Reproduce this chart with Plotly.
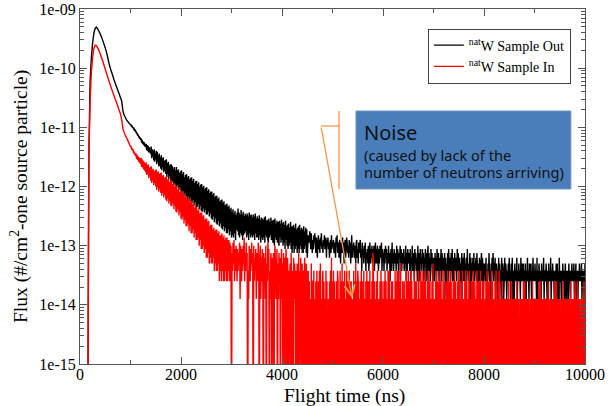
import numpy as np
import plotly.graph_objects as go

# ---------------- data ----------------
U = 1.25e-14          # flux of one tally count (#/cm^2 per source particle)
ZERO_FLOOR = 1e-17    # empty bins are drawn below the axis floor

# 0 .. 1000 ns, every 25 ns (smooth part), flux values
out_peak = [0, 0, 0, 0, 0, 0, 0,
            3e-12, 6e-11, 1.5e-10, 2.7e-10, 3.9e-10, 4.7e-10, 4.95e-10, 4.6e-10,
            4.2e-10, 3.8e-10, 3.35e-10, 2.95e-10, 2.55e-10, 2.2e-10, 1.85e-10,
            1.5e-10, 1.2e-10, 1.0e-10, 8.6e-11, 7.4e-11, 6.3e-11, 5.5e-11, 4.8e-11,
            4.2e-11, 3.7e-11, 3.2e-11, 2.8e-11, 1.9e-11, 1.6e-11, 1.45e-11,
            1.32e-11, 1.24e-11, 1.17e-11, 1.1e-11]
in_peak = [0, 0, 0, 0, 0, 0, 0,
           3e-12, 2.8e-11, 8.5e-11, 1.55e-10, 2.15e-10, 2.45e-10, 2.4e-10, 2.2e-10,
           1.98e-10, 1.75e-10, 1.52e-10, 1.32e-10, 1.13e-10, 9.6e-11, 8.1e-11,
           7.0e-11, 6.0e-11, 5.2e-11, 4.5e-11, 3.9e-11, 3.4e-11, 2.95e-11, 2.6e-11,
           2.25e-11, 1.95e-11, 1.7e-11, 1.35e-11, 9.5e-12, 8.2e-12, 7.3e-12,
           6.6e-12, 5.9e-12, 5.3e-12, 4.7e-12]

# 1010 .. 3000 ns, every 10 ns, in tally counts (x U)
out_mid = [
    880, 820, 860, 780, 800, 760, 770, 700, 740, 680,
    680, 620, 650, 580, 610, 560, 570, 510, 540, 490,
    520, 440, 490, 420, 460, 400, 450, 380, 420, 370,
    420, 330, 400, 320, 390, 300, 370, 300, 350, 280,
    380, 240, 340, 260, 320, 220, 340, 210, 290, 230,
    320, 190, 310, 210, 270, 175, 290, 180, 250, 160,
    270, 150, 240, 170, 250, 140, 215, 150, 225, 130,
    230, 115, 200, 130, 210, 105, 180, 120, 190, 98,
    190, 92, 175, 100, 160, 84, 170, 90, 150, 80,
    170, 76, 150, 85, 155, 70, 135, 78, 145, 66,
    150, 60, 130, 68, 140, 55, 115, 62, 125, 50,
    130, 48, 115, 55, 120, 45, 105, 52, 112, 44,
    115, 42, 100, 48, 108, 38, 92, 44, 98, 36,
    100, 36, 88, 40, 94, 33, 80, 38, 86, 31,
    88, 30, 78, 34, 82, 29, 72, 32, 76, 27,
    78, 27, 68, 30, 72, 25, 62, 28, 66, 23,
    66, 22, 58, 25, 62, 20, 52, 23, 56, 19,
    56, 18, 49, 21, 52, 17, 44, 19, 47, 16,
    48, 15, 42, 17, 45, 14, 38, 16, 40, 13,
    41, 13, 36, 15, 38, 12, 33, 14, 35, 11,
]
in_mid = [
    390, 340, 360, 320, 340, 295, 315, 275, 295, 260,
    290, 235, 275, 225, 260, 210, 250, 200, 240, 190,
    245, 170, 230, 168, 220, 155, 210, 150, 195, 138,
    205, 125, 185, 130, 190, 112, 168, 118, 170, 100,
    175, 92, 155, 100, 160, 85, 145, 92, 150, 80,
    155, 70, 140, 78, 145, 65, 130, 72, 135, 62,
    138, 56, 120, 62, 125, 52, 112, 58, 116, 48,
    120, 45, 105, 50, 108, 41, 95, 46, 100, 38,
    100, 37, 88, 42, 92, 33, 80, 38, 84, 30,
    82, 29, 72, 33, 75, 26, 65, 30, 68, 23,
    68, 22, 60, 25, 62, 19, 54, 22, 56, 17,
    56, 17, 49, 19, 51, 14, 44, 17, 46, 13,
    46, 13, 40, 15, 42, 11, 35, 13, 37, 10,
    36, 10, 31, 11, 33, 8, 28, 10, 29, 7,
    29, 7, 25, 8, 26, 6, 22, 7, 23, 5,
    23, 5, 20, 6, 21, 4, 17, 5, 18, 4,
    18, 4, 15, 5, 16, 3, 14, 4, 15, 3,
    15, 3, 13, 4, 14, 2, 12, 3, 12, 2,
    13, 3, 11, 2, 12, 2, 10, 3, 11, 2,
    11, 2, 10, 3, 10, 2, 9, 2, 8, 0,
]

# 3010 .. 10000 ns, every 10 ns, tally counts written as base-36 digits
out_tail = [
    "ucxbsdvaqf", "teyctbrdwc", "raucpdseqb", "scpatdqbrc", "obrcpasdnb",
    "pbnaqcm9ob", "nambo9pclb", "ma9nbkcoal", "k9ma8nbjal", "9ka8lbj9ma",
    "j8k9i7lah8", "i7j8g9k7h6", "h8i6g7j8f6", "g7h6i8f7g6", "f6h7e8g6f5",
    "8cb9ea7d96", "a7c9d86b85", "9c7a6b8d79", "6a8c79b5a8", "b7958a6c79",
    "8a6795b8c6", "975a84968b", "6948a57b96", "85a6947c58", "7958649a57",
    "4968a57396", "7485936574", "8369475847", "5836947485", "3748569375",
    "6374857364", "8462573946", "3754638475", "2658473564", "7354826375",
    "4637254836", "5274635284", "3627453746", "2547362583", "6352746325",
    "4263527436", "2534726354", "3625143627", "4352637245", "2634527364",
    "3524163524", "6243527342", "3615243526", "2435263142", "5324625314",
    "3425132436", "2314253624", "3512432052", "4231524312", "5243132425",
    "2314252031", "4232513242", "3152432413", "2403252314", "3241325232",
    "4231503242", "2314232513", "3242130423", "2513242312", "3241423052",
    "2313242312", "4203231423", "1324232413", "2402313242", "3241323124",
]
in_tail = [
    "6394a27385", "2736491852", "7384b26394", "6031852749", "3608253714",
    "6294038152", "7306251804", "2957031640", "5260384127", "0416250371",
    "4061502730", "5203140620", "3051420304", "2060315024", "0302501403",
    "0302010402", "2030102030", "0203040102", "3020103020", "0102030502",
    "0302010203", "2010302040", "0203010302", "1030202010", "0302040203",
    "2010203020", "0301020302", "0203010206", "3020102030", "0102030201",
    "0203020103", "2030102020", "0103020302", "3020401020", "0201030203",
    "1020302010", "0302020103", "2010302030", "0203010202", "3020102040",
    "0102030201", "2030201030", "0201020302", "1030201020", "0302010203",
    "2010203010", "0203020102", "3010202030", "0201030201", "2030102020",
    "0102030201", "2010302010", "0203010203",
    "0101020101", "1010101020", "0102010101", "1010201010", "0101010201",
    "2010101010", "0101020101", "1010101020", "0201010101", "1010102010",
    "0101010102", "1020101010", "0101020101", "1010101010", "0201010102",
    "1010201010", "0101010201",
]

x_ticks = [0, 2000, 4000, 6000, 8000, 10000]
x_ticklabels = ["0", "2000", "4000", "6000", "8000", "10000"]
y_ticks = [1e-15, 1e-14, 1e-13, 1e-12, 1e-11, 1e-10, 1e-9]
y_ticklabels = ["1e-15", "1e-14", "1e-13", "1e-12", "1e-11", "1e-10", "1e-09"]

series_names = ["<sup>nat</sup>W Sample Out", "<sup>nat</sup>W Sample In"]
series_colors = ["#000000", "#ff0000"]

# ---------------- build ----------------
def series(peak, mid, tail):
    tail_counts = [int(c, 36) for c in "".join(tail)]
    t = np.concatenate([np.arange(len(peak)) * 25.0,
                        1000.0 + 10.0 * np.arange(1, len(mid) + 1),
                        3000.0 + 10.0 * np.arange(1, len(tail_counts) + 1)])
    y = np.concatenate([np.array(peak, float),
                        np.array(mid, float) * U,
                        np.array(tail_counts, float) * U])
    return t, np.where(y > 0, y, ZERO_FLOOR)

fig = go.Figure()
for args, name, col in zip([(out_peak, out_mid, out_tail), (in_peak, in_mid, in_tail)],
                           series_names, series_colors):
    t, y = series(*args)
    fig.add_trace(go.Scatter(x=t, y=y, mode="lines", name=name,
                             line=dict(color=col, width=1.4, simplify=False),
                             hoverinfo="skip"))

axis_col = "#555555"
minor_y = [k * 10.0 ** e for e in range(-15, -9) for k in range(2, 10)]

fig.update_layout(
    width=608, height=406,
    margin=dict(l=80, r=23, t=9, b=42),
    paper_bgcolor="white", plot_bgcolor="white",
    font=dict(family="Liberation Serif", size=16, color="black"),
    legend=dict(x=0.972, y=0.945, xanchor="right", yanchor="top",
                bgcolor="white", bordercolor="#444444", borderwidth=1,
                font=dict(family="Liberation Serif", size=14, color="black"),
                tracegroupgap=2),
    xaxis=dict(range=[0, 10000], tickvals=x_ticks, ticktext=x_ticklabels,
               ticks="inside", ticklen=7, automargin=False, ticklabelstandoff=-4,
               tickcolor=axis_col, showline=True, linecolor=axis_col, linewidth=1,
               mirror="ticks", showgrid=False, zeroline=False,
               minor=dict(dtick=1000, ticks="inside", ticklen=4, tickcolor=axis_col)),
    yaxis=dict(type="log", range=[-15, -9], tickvals=y_ticks, ticktext=y_ticklabels,
               ticks="inside", ticklen=7, tickcolor=axis_col, showline=True,
               linecolor=axis_col, linewidth=1, mirror="ticks", showgrid=False,
               zeroline=False, automargin=False,
               minor=dict(tickvals=minor_y, ticks="inside", ticklen=4, tickcolor=axis_col)),
)

# axis titles
fig.add_annotation(xref="paper", yref="paper", x=0.523, y=-0.09, xanchor="center",
                   yanchor="middle", text="Flight time (ns)", showarrow=False, borderpad=0,
                   font=dict(family="Liberation Serif", size=19.5, color="black"))
fig.add_annotation(xref="paper", yref="paper", x=-0.121, y=0.473, xanchor="center",
                   yanchor="middle", textangle=-90, showarrow=False, borderpad=0,
                   text="Flux (#/cm<sup>2</sup>-one source particle)",
                   font=dict(family="Liberation Serif", size=19.5, color="black"))

orange = "#f79646"
fig.add_shape(type="rect", xref="paper", yref="paper", x0=0.5465, x1=0.972,
              y0=0.493, y1=0.7127, fillcolor="#4a7ebb", line=dict(color="#6f95c8", width=1),
              layer="above")
fig.add_shape(type="line", xref="paper", yref="paper", x0=0.5129, x1=0.5129,
              y0=0.493, y1=0.7127, line=dict(color=orange, width=1.3))
fig.add_shape(type="line", xref="paper", yref="paper", x0=0.4772, x1=0.5129,
              y0=0.6704, y1=0.6704, line=dict(color=orange, width=1.3))
fig.add_annotation(xref="paper", yref="paper", x=0.5386, y=0.1859, ax=-31, ay=-172,
                   axref="pixel", ayref="pixel", text="", showarrow=True,
                   arrowhead=5, arrowsize=1.6, arrowwidth=1.3, arrowcolor=orange)

sans = "Noto Sans"
fig.add_annotation(xref="paper", yref="paper", x=0.561, y=0.6535, xanchor="left",
                   yanchor="middle", text="Noise", showarrow=False, borderpad=0,
                   font=dict(family=sans, size=20, color="#111111"))
fig.add_annotation(xref="paper", yref="paper", x=0.561, y=0.5887, xanchor="left",
                   yanchor="middle", text="(caused by lack of the", showarrow=False,
                   borderpad=0, font=dict(family=sans, size=14.6, color="#111111"))
fig.add_annotation(xref="paper", yref="paper", x=0.561, y=0.5408, xanchor="left",
                   yanchor="middle", text="number of neutrons arriving)", showarrow=False,
                   borderpad=0, font=dict(family=sans, size=14.6, color="#111111"))

fig.write_html("out.html")
